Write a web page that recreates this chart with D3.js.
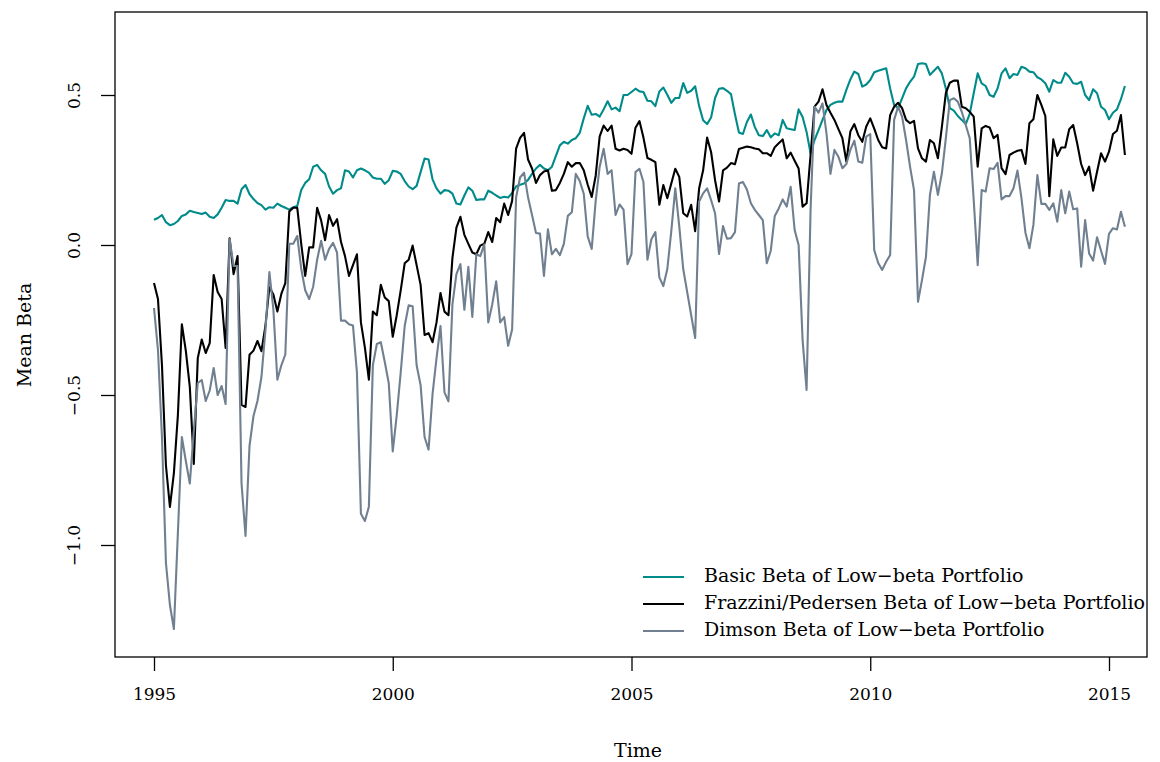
<!DOCTYPE html>
<html>
<head>
<meta charset="utf-8">
<script src="https://cdn.jsdelivr.net/npm/d3@7"></script>
<style>
  body { margin: 0; background: #fff; }
  text { font-family: "DejaVu Serif", serif; fill: #000; }
</style>
</head>
<body>
<svg width="1160" height="762"></svg>
<script>
// monthly series, Jan 1995 .. May 2015
var startYear = 1995
var basicBeta = [
  0.084,0.09,0.10,0.076,0.066,0.07,0.08,0.097,0.102,0.114,0.11,0.107,
  0.103,0.108,0.094,0.09,0.102,0.124,0.15,0.147,0.147,0.138,0.186,0.20,
  0.17,0.153,0.14,0.133,0.118,0.126,0.124,0.138,0.13,0.124,0.118,0.126,
  0.13,0.183,0.207,0.219,0.261,0.267,0.249,0.237,0.195,0.171,0.183,0.189,
  0.249,0.245,0.225,0.249,0.255,0.249,0.241,0.225,0.221,0.221,0.204,0.216,
  0.247,0.245,0.237,0.213,0.195,0.186,0.197,0.243,0.288,0.285,0.219,0.189,
  0.171,0.183,0.181,0.171,0.138,0.135,0.165,0.192,0.181,0.15,0.152,0.152,
  0.181,0.174,0.165,0.157,0.161,0.158,0.174,0.195,0.201,0.205,0.217,0.237,
  0.255,0.267,0.255,0.249,0.261,0.297,0.332,0.344,0.338,0.35,0.356,0.374,
  0.422,0.464,0.434,0.437,0.428,0.452,0.479,0.452,0.458,0.446,0.5,0.5,
  0.51,0.521,0.512,0.51,0.481,0.479,0.463,0.512,0.525,0.501,0.474,0.49,
  0.49,0.54,0.507,0.514,0.529,0.463,0.416,0.403,0.425,0.49,0.521,0.523,
  0.514,0.503,0.436,0.375,0.37,0.41,0.435,0.393,0.366,0.363,0.383,0.359,
  0.372,0.366,0.417,0.389,0.386,0.383,0.452,0.427,0.377,0.306,0.35,0.383,
  0.417,0.45,0.467,0.474,0.478,0.478,0.517,0.552,0.578,0.57,0.528,0.535,
  0.55,0.576,0.581,0.585,0.589,0.522,0.467,0.456,0.489,0.522,0.544,0.561,
  0.603,0.606,0.603,0.567,0.581,0.594,0.572,0.522,0.456,0.448,0.43,0.417,
  0.403,0.437,0.506,0.572,0.539,0.53,0.5,0.494,0.522,0.572,0.589,0.556,
  0.57,0.567,0.594,0.589,0.578,0.576,0.559,0.552,0.539,0.511,0.55,0.541,
  0.541,0.574,0.561,0.539,0.537,0.544,0.5,0.483,0.519,0.506,0.461,0.45,
  0.419,0.441,0.452,0.486,0.53
]
var fpBeta = [
  -0.127,-0.18,-0.40,-0.735,-0.873,-0.76,-0.568,-0.264,-0.353,-0.473,-0.73,-0.377,
  -0.315,-0.36,-0.327,-0.10,-0.157,-0.18,-0.343,0.022,-0.097,-0.037,-0.533,-0.54,
  -0.366,-0.352,-0.32,-0.354,-0.27,-0.14,-0.165,-0.222,-0.163,-0.127,0.112,0.124,
  0.124,0.004,-0.103,-0.008,-0.008,0.124,0.082,0.016,0.1,0.064,0.086,0.01,
  -0.037,-0.103,-0.067,-0.031,-0.258,-0.342,-0.449,-0.222,-0.234,-0.133,-0.175,-0.187,
  -0.306,-0.234,-0.151,-0.061,-0.049,-0.002,-0.067,-0.133,-0.3,-0.294,-0.324,-0.258,
  -0.16,-0.222,-0.234,-0.043,0.058,0.094,0.034,0.004,-0.025,-0.031,-0.002,0.004,
  0.043,0.01,0.09,0.076,0.138,0.1,0.147,0.321,0.357,0.374,0.285,0.255,
  0.207,0.233,0.245,0.249,0.181,0.183,0.207,0.237,0.276,0.261,0.273,0.273,
  0.249,0.201,0.16,0.231,0.362,0.398,0.38,0.398,0.321,0.315,0.321,0.317,
  0.304,0.391,0.413,0.358,0.29,0.284,0.276,0.134,0.2,0.156,0.205,0.254,
  0.227,0.106,0.095,0.134,0.046,0.189,0.249,0.358,0.31,0.216,0.145,0.249,
  0.258,0.273,0.269,0.32,0.324,0.328,0.326,0.322,0.319,0.306,0.306,0.297,
  0.326,0.339,0.352,0.289,0.308,0.281,0.255,0.128,0.139,0.3,0.461,0.478,
  0.519,0.467,0.441,0.417,0.386,0.356,0.278,0.378,0.403,0.366,0.344,0.395,
  0.422,0.388,0.35,0.326,0.322,0.433,0.461,0.474,0.456,0.417,0.406,0.414,
  0.322,0.289,0.278,0.35,0.339,0.289,0.394,0.506,0.541,0.548,0.548,0.461,
  0.456,0.444,0.428,0.261,0.389,0.397,0.392,0.356,0.367,0.256,0.236,0.3,
  0.308,0.314,0.317,0.27,0.406,0.419,0.5,0.467,0.43,0.163,0.352,0.297,
  0.325,0.325,0.386,0.4,0.339,0.27,0.233,0.261,0.181,0.244,0.306,0.278,
  0.311,0.37,0.381,0.433,0.3
]
var dimsonBeta = [
  -0.21,-0.35,-0.64,-1.06,-1.2,-1.28,-0.96,-0.64,-0.72,-0.795,-0.62,-0.46,
  -0.45,-0.52,-0.485,-0.41,-0.50,-0.47,-0.53,0.02,-0.07,-0.07,-0.795,-0.97,
  -0.67,-0.57,-0.52,-0.44,-0.285,-0.09,-0.215,-0.449,-0.401,-0.365,0.004,0.004,
  0.03,-0.079,-0.151,-0.18,-0.139,-0.049,0.014,-0.049,-0.013,0.007,-0.025,-0.252,
  -0.252,-0.264,-0.268,-0.425,-0.896,-0.92,-0.873,-0.401,-0.33,-0.324,-0.39,-0.461,
  -0.688,-0.568,-0.425,-0.27,-0.201,-0.204,-0.401,-0.467,-0.64,-0.682,-0.497,-0.377,
  -0.27,-0.491,-0.521,-0.198,-0.097,-0.064,-0.216,-0.073,-0.24,-0.031,-0.037,0.002,
  -0.258,-0.198,-0.121,-0.258,-0.24,-0.336,-0.282,0.159,0.225,0.241,0.159,0.1,
  0.04,0.038,-0.103,0.052,-0.031,-0.013,-0.034,0.004,0.097,0.109,0.237,0.213,
  0.171,0.028,-0.013,0.147,0.261,0.321,0.237,0.249,0.1,0.135,0.118,-0.064,
  -0.03,0.243,0.254,0.21,-0.049,0.019,0.043,-0.108,-0.137,-0.08,0.046,0.189,
  0.063,-0.08,-0.157,-0.234,-0.31,0.145,0.172,0.189,0.15,0.106,-0.03,0.063,
  0.021,0.023,0.043,0.205,0.21,0.185,0.139,0.117,0.1,0.083,-0.061,-0.019,
  0.097,0.122,0.152,0.128,0.194,0.05,0,-0.317,-0.483,0.117,0.461,0.441,
  0.472,0.372,0.237,0.317,0.294,0.256,0.27,0.317,0.348,0.278,0.274,0.361,
  0.37,-0.017,-0.06,-0.083,-0.056,-0.033,0.417,0.461,0.428,0.35,0.261,0.183,
  -0.189,-0.117,-0.039,0.167,0.244,0.167,0.239,0.356,0.483,0.489,0.478,0.444,
  0.4,0.356,0.15,-0.067,0.183,0.178,0.256,0.253,0.274,0.152,0.163,0.163,
  0.189,0.248,0.156,0.041,-0.011,0.067,0.233,0.137,0.137,0.117,0.139,0.078,
  0.183,0.106,0.178,0.119,0.122,-0.072,0.083,-0.028,-0.052,0.026,-0.019,-0.063,
  0.037,0.056,0.052,0.111,0.061
]
var seriesNames = ["Basic Beta of Low\u2212beta Portfolio",
  "Frazzini/Pedersen Beta of Low\u2212beta Portfolio",
  "Dimson Beta of Low\u2212beta Portfolio"]
var seriesColors = ["#008b8b", "#000000", "#708090"]
var xTicks = [1995, 2000, 2005, 2010, 2015]
var yTicks = [-1.0, -0.5, 0.0, 0.5]

var svg = d3.select("svg")

var box = {left: 115, right: 1147, top: 12, bottom: 657}

var x = d3.scaleLinear().domain([1995, 2015]).range([154, 1109])
var y = d3.scaleLinear().domain([-1, 0.5]).range([545, 95])

var line = d3.line()
  .x(function(d, i) { return x(startYear + i / 12) })
  .y(function(d) { return y(d) })

var allSeries = [basicBeta, fpBeta, dimsonBeta]
allSeries.forEach(function(s, k) {
  svg.append("path")
    .datum(s)
    .attr("fill", "none")
    .attr("stroke", seriesColors[k])
    .attr("stroke-width", 2.1)
    .attr("stroke-linejoin", "round")
    .attr("d", line)
})

// frame
svg.append("rect")
  .attr("x", box.left).attr("y", box.top)
  .attr("width", box.right - box.left).attr("height", box.bottom - box.top)
  .attr("fill", "none").attr("stroke", "#000").attr("stroke-width", 1.3)

// x axis
var xAxis = svg.append("g")
  .attr("transform", "translate(0," + box.bottom + ")")
  .call(d3.axisBottom(x).tickValues(xTicks).tickFormat(d3.format("d")).tickSize(14).tickPadding(17))
xAxis.select(".domain").remove()
xAxis.selectAll("line").attr("stroke-width", 1.3)
xAxis.selectAll("text").style("font-size", "17px").style("font-family", "DejaVu Serif, serif")

// y axis
var yAxis = svg.append("g")
  .attr("transform", "translate(" + box.left + ",0)")
  .call(d3.axisLeft(y).tickValues(yTicks).tickFormat(function(d) { return d3.format(".1f")(d).replace("-", "\u2212") }).tickSize(14))
yAxis.select(".domain").remove()
yAxis.selectAll("line").attr("stroke-width", 1.3)
yAxis.selectAll("text")
  .style("font-size", "17px")
  .style("font-family", "DejaVu Serif, serif")
  .attr("text-anchor", "middle")
  .attr("dy", null)
  .attr("x", null)
  .attr("transform", "translate(-40,0) rotate(-90)")
  .attr("dominant-baseline", "middle")

// axis titles
svg.append("text")
  .attr("x", 638).attr("y", 757)
  .attr("text-anchor", "middle")
  .style("font-size", "19px")
  .text("Time")

svg.append("text")
  .attr("transform", "translate(31,335) rotate(-90)")
  .attr("text-anchor", "middle")
  .style("font-size", "19px")
  .text("Mean Beta")

// legend
var legend = svg.append("g")
seriesNames.forEach(function(name, k) {
  var ly = 577 + k * 27
  legend.append("line")
    .attr("x1", 643).attr("x2", 684)
    .attr("y1", ly).attr("y2", ly)
    .attr("stroke", seriesColors[k]).attr("stroke-width", 2.1)
  legend.append("text")
    .attr("x", 704).attr("y", ly)
    .attr("dominant-baseline", "middle")
    .style("font-size", "19px")
    .text(name)
})
</script>
</body>
</html>
